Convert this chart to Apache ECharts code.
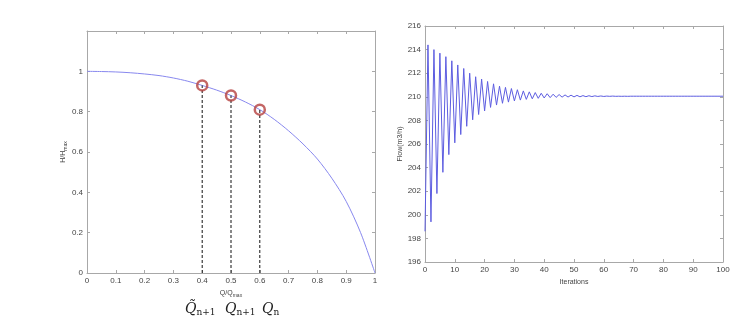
<!DOCTYPE html>
<html>
<head>
<meta charset="utf-8">
<script src="https://cdn.jsdelivr.net/npm/echarts@6/dist/echarts.min.js"></script>
<style>
  html, body { margin: 0; padding: 0; background: #fff; }
  #chart { width: 740px; height: 329px; }
</style>
</head>
<body>
<div id="chart"></div>
<script>
// left panel: pump curve H/Hmax vs Q/Qmax
var qRatio = [0, 0.05, 0.1, 0.15, 0.2, 0.25, 0.3, 0.35, 0.4, 0.45, 0.5, 0.55, 0.6, 0.65, 0.7, 0.75, 0.8, 0.85, 0.9, 0.95, 1];
var hRatio = [1, 0.999, 0.997, 0.993, 0.987, 0.979, 0.967, 0.951, 0.93, 0.907, 0.88, 0.848, 0.81, 0.762, 0.705, 0.64, 0.565, 0.47, 0.355, 0.2, 0];
// marked operating points
var markQ = [0.4, 0.5, 0.6];
var markH = [0.93, 0.88, 0.81];

// right panel: flow per iteration
var iterations = [];
for (var i = 0; i <= 100; i++) iterations.push(i);
var flow = [
  198.6, 214.4, 199.4, 214.0, 201.8, 213.7, 203.6, 213.4, 205.1, 213.05,
  206.1, 212.7, 206.8, 212.4, 207.5, 212.0, 208.05, 211.7, 208.5, 211.5,
  208.8, 211.3, 209.1, 211.1, 209.3, 210.9, 209.45, 210.8, 209.55, 210.7,
  209.65, 210.6, 209.72, 210.5, 209.78, 210.42, 209.83, 210.36, 209.87, 210.3,
  209.9, 210.26, 209.93, 210.22, 209.95, 210.19, 209.97, 210.16, 209.98, 210.14,
  209.99, 210.12, 210.0, 210.1, 210.01, 210.09, 210.02, 210.08, 210.03, 210.07,
  210.03, 210.06, 210.04, 210.06, 210.04, 210.05, 210.04, 210.05, 210.04, 210.05,
  210.05, 210.05, 210.05, 210.05, 210.05, 210.05, 210.05, 210.05, 210.05, 210.05,
  210.05, 210.05, 210.05, 210.05, 210.05, 210.05, 210.05, 210.05, 210.05, 210.05,
  210.05, 210.05, 210.05, 210.05, 210.05, 210.05, 210.05, 210.05, 210.05, 210.05,
  210.05
];

var axisGrey = '#a8a8a8';
var labelStyle = { fontFamily: 'Liberation Sans', fontSize: 8, color: '#444', margin: 4 };

// matlab style box: extra axes on top / right, ticks only
function boxAxis(gridIndex, pos, min, max, interval) {
  return {
    gridIndex: gridIndex, position: pos, type: 'value',
    min: min, max: max, interval: interval,
    axisLine: { show: true, onZero: false, lineStyle: { color: axisGrey, width: 1 } },
    axisTick: { show: true, inside: true, length: 3, lineStyle: { color: axisGrey } },
    axisLabel: { show: false },
    splitLine: { show: false }
  };
}

var chart = echarts.init(document.getElementById('chart'));

var curveData = qRatio.map(function (q, k) { return [q, hRatio[k]]; });
var flowData = iterations.map(function (it, k) { return [it, flow[k]]; });

var series = [
  {
    type: 'line', xAxisIndex: 0, yAxisIndex: 0,
    data: curveData, smooth: 0.3, showSymbol: false,
    lineStyle: { color: '#8888ee', width: 1 }
  }
];
markQ.forEach(function (q, k) {
  series.push({
    type: 'line', xAxisIndex: 0, yAxisIndex: 0,
    data: [[q, 0], [q, markH[k]]], showSymbol: false,
    lineStyle: { color: '#111', width: 1, type: [3, 2] }
  });
});
series.push({
  type: 'scatter', xAxisIndex: 0, yAxisIndex: 0,
  data: markQ.map(function (q, k) { return [q, markH[k]]; }),
  symbol: 'circle', symbolSize: 10,
  itemStyle: { color: 'rgba(255,255,255,0)', borderColor: '#b5403f', borderWidth: 2.5 },
  z: 5
});
series.push({
  type: 'line', xAxisIndex: 2, yAxisIndex: 2,
  data: flowData, showSymbol: false,
  lineStyle: { color: '#5c5ce0', width: 1 }
});

var subRich = {
  a: { fontFamily: 'Liberation Sans', fontSize: 7, color: '#444' },
  b: { fontFamily: 'Liberation Sans', fontSize: 5, color: '#444', verticalAlign: 'bottom', padding: [4, 0, 0, 0] }
};
var mathRich = {
  q: { fontFamily: 'DejaVu Serif', fontStyle: 'italic', fontSize: 14, fill: '#222' },
  s: { fontFamily: 'DejaVu Serif', fontSize: 9, fill: '#222', padding: [8, 0, 0, 0] }
};

chart.setOption({
  animation: false,
  grid: [
    { left: 87, top: 31, width: 288, height: 242 },
    { left: 425, top: 26, width: 298, height: 236 }
  ],
  xAxis: [
    {
      gridIndex: 0, type: 'value', min: 0, max: 1, interval: 0.1,
      name: '{a|Q/Q}{b|max}', nameLocation: 'middle', nameGap: 14,
      nameTextStyle: { rich: subRich },
      axisLine: { show: true, onZero: false, lineStyle: { color: axisGrey } },
      axisTick: { show: true, inside: true, length: 3, lineStyle: { color: axisGrey } },
      axisLabel: labelStyle,
      splitLine: { show: false }
    },
    boxAxis(0, 'top', 0, 1, 0.1),
    {
      gridIndex: 1, type: 'value', min: 0, max: 100, interval: 10,
      name: 'Iterations', nameLocation: 'middle', nameGap: 14,
      nameTextStyle: { fontFamily: 'Liberation Sans', fontSize: 7, color: '#444' },
      axisLine: { show: true, onZero: false, lineStyle: { color: axisGrey } },
      axisTick: { show: true, inside: true, length: 3, lineStyle: { color: axisGrey } },
      axisLabel: labelStyle,
      splitLine: { show: false }
    },
    boxAxis(1, 'top', 0, 100, 10)
  ],
  yAxis: [
    {
      gridIndex: 0, type: 'value', min: 0, max: 1.2, interval: 0.2,
      name: '{a|H/H}{b|max}', nameLocation: 'middle', nameGap: 18, nameRotate: 90,
      nameTextStyle: { rich: subRich },
      axisLine: { show: true, onZero: false, lineStyle: { color: axisGrey } },
      axisTick: { show: true, inside: true, length: 3, lineStyle: { color: axisGrey } },
      axisLabel: Object.assign({}, labelStyle, { showMaxLabel: false }),
      splitLine: { show: false }
    },
    boxAxis(0, 'right', 0, 1.2, 0.2),
    {
      gridIndex: 1, type: 'value', min: 196, max: 216, interval: 2,
      name: 'Flow(m3/h)', nameLocation: 'middle', nameGap: 20, nameRotate: 90,
      nameTextStyle: { fontFamily: 'Liberation Sans', fontSize: 7, color: '#444' },
      axisLine: { show: true, onZero: false, lineStyle: { color: axisGrey } },
      axisTick: { show: true, inside: true, length: 3, lineStyle: { color: axisGrey } },
      axisLabel: labelStyle,
      splitLine: { show: false }
    },
    boxAxis(1, 'right', 196, 216, 2)
  ],
  graphic: [
    { type: 'text', left: 185, top: 302, style: { text: '{q|Q\u0303}{s|n+1}', rich: mathRich } },
    { type: 'text', left: 225, top: 302, style: { text: '{q|Q}{s|n+1}', rich: mathRich } },
    { type: 'text', left: 262, top: 302, style: { text: '{q|Q}{s|n}', rich: mathRich } }
  ],
  series: series
});
</script>
</body>
</html>
